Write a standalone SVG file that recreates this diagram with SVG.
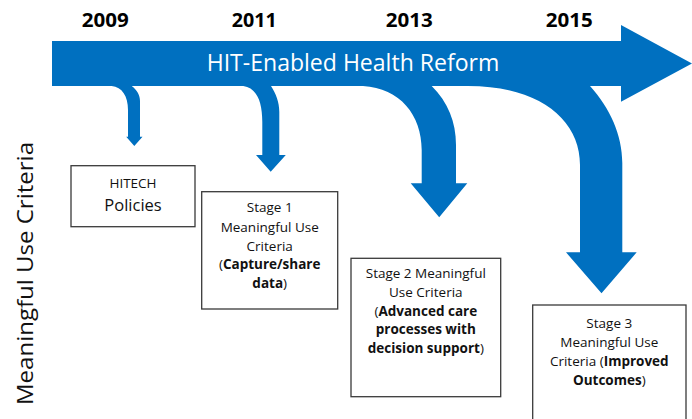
<svg xmlns="http://www.w3.org/2000/svg" width="692" height="419" viewBox="0 0 692 419">
<style>
.blue{fill:#0070c0}
.box{fill:#fff;stroke:#3a3a3a;stroke-width:1.3}
.yr{font-family:"Open Sans","Liberation Sans",sans-serif;font-weight:700;font-size:19.5px;fill:#000;text-anchor:middle}
.t{font-family:"Open Sans","Liberation Sans",sans-serif;font-size:13.5px;fill:#111;text-anchor:middle}
.b{font-weight:700}
</style>
<rect width="692" height="419" fill="#fff"/>
<g id="years">
<text class="yr" x="105.3" y="26.7" textLength="47" lengthAdjust="spacingAndGlyphs">2009</text>
<text class="yr" x="254.2" y="26.7" textLength="45" lengthAdjust="spacingAndGlyphs">2011</text>
<text class="yr" x="409.3" y="26.7" textLength="47" lengthAdjust="spacingAndGlyphs">2013</text>
<text class="yr" x="569.2" y="26.7" textLength="47" lengthAdjust="spacingAndGlyphs">2015</text>
</g>
<g id="connectors" class="blue">
<path d="M111.7,80 L111.7,86 C122,87 128,96 128,110 L128,136.7 L126.2,136.7 L134.3,146 L142.5,136.7 L140,136.7 L140,101 C140,95 137,90 131.7,86 L131.7,80 Z"/>
<path d="M243.3,80 L243.3,86 C256,88 262.3,100 262.3,122 L262.3,155 L256,155 L270.7,171.7 L285.8,155 L279.3,155 L279.3,112 C279.3,102 276,94 271,86 L271,80 Z"/>
<path d="M363,80 L363,86 C400,88 421.7,115 421.7,150 L421.7,183.3 L410.7,183.3 L439.2,217.3 L467.3,183.3 L456,183.3 L456,145 C456,122 448,102 431.7,86 L431.7,80 Z"/>
<path d="M468,80 L468,86 C540,86 580,120 580,165 L580,252.3 L566,252.3 L601.5,293.3 L636.7,252.3 L622.3,252.3 L622.3,163 C622.3,135 610,108 590,86 L590,80 Z"/>
</g>
<g id="timeline">
<path class="blue" d="M52,41 L621,41 L621,25 L692,63.5 L621,101.7 L621,86 L52,86 Z"/>
<text x="353" y="71" font-family="'Open Sans','Liberation Sans',sans-serif" font-size="23" fill="#fff" text-anchor="middle" textLength="292.6" lengthAdjust="spacingAndGlyphs">HIT-Enabled Health Reform</text>
</g>
<g id="axis-label">
<text transform="translate(33,273.5) rotate(-90)" font-family="'Open Sans','Liberation Sans',sans-serif" font-size="21" fill="#111" text-anchor="middle" textLength="263" lengthAdjust="spacingAndGlyphs">Meaningful Use Criteria</text>
</g>
<g id="hitech">
<rect class="box" x="71" y="165.7" width="124" height="61"/>
<text class="t" x="133" y="187.7" style="font-size:13.5px">HITECH</text>
<text class="t" x="133" y="211" style="font-size:16.5px">Policies</text>
</g>
<g id="stage1">
<rect class="box" x="201.7" y="191.7" width="136" height="117.3"/>
<text class="t" x="269.7" y="212.3">Stage 1</text>
<text class="t" x="269.7" y="231.7">Meaningful Use</text>
<text class="t" x="269.7" y="250.5">Criteria</text>
<text class="t" x="269.7" y="269.3">(<tspan class="b">Capture/share</tspan></text>
<text class="t" x="269.7" y="288"><tspan class="b">data</tspan>)</text>
</g>
<g id="stage2">
<rect class="box" x="351" y="258.3" width="149.7" height="138.4"/>
<text class="t" x="425.8" y="278.3">Stage 2 Meaningful</text>
<text class="t" x="425.8" y="297">Use Criteria</text>
<text class="t" x="425.8" y="315.7">(<tspan class="b">Advanced care</tspan></text>
<text class="t" x="425.8" y="334.3"><tspan class="b">processes with</tspan></text>
<text class="t" x="425.8" y="353"><tspan class="b">decision support</tspan>)</text>
</g>
<g id="stage3">
<rect class="box" x="532.7" y="305" width="153.3" height="130"/>
<text class="t" x="609.3" y="327.7">Stage 3</text>
<text class="t" x="609.3" y="346.7">Meaningful Use</text>
<text class="t" x="609.3" y="366">Criteria (<tspan class="b">Improved</tspan></text>
<text class="t" x="609.3" y="384.7"><tspan class="b">Outcomes</tspan>)</text>
</g>
</svg>
